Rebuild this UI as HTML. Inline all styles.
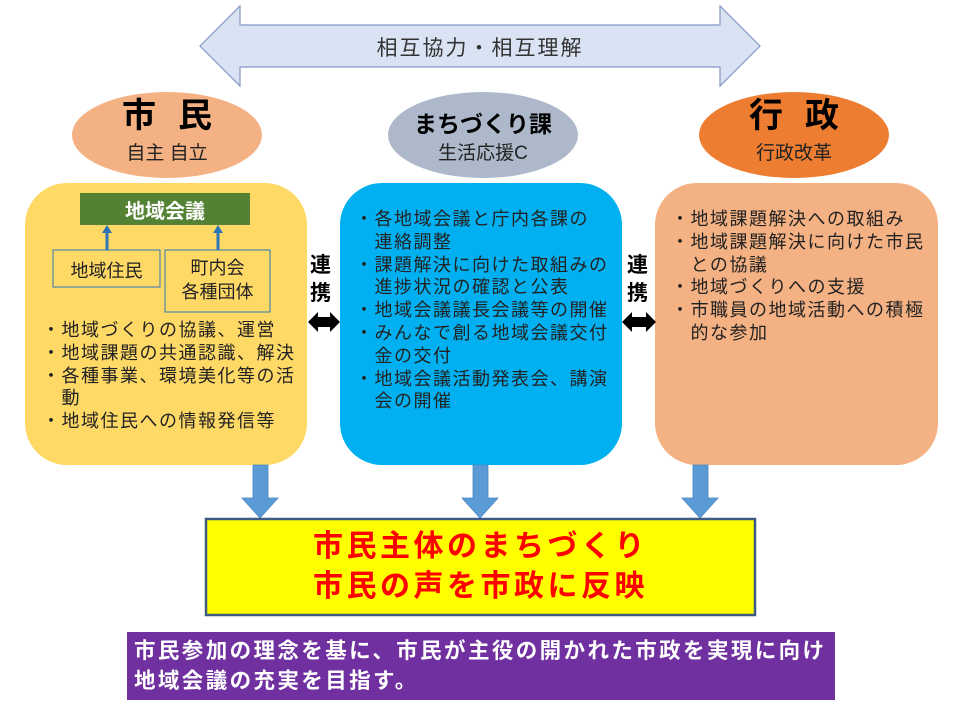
<!DOCTYPE html>
<html><head><meta charset="utf-8"><style>
body{margin:0;width:960px;height:720px;background:#fff;position:relative;overflow:hidden;font-family:"Liberation Sans","Noto Sans CJK JP",sans-serif;}
.a{position:absolute;}
.list{font-size:18px;line-height:22.8px;color:#222;letter-spacing:1.5px;white-space:nowrap;}
</style></head><body>
<svg class="a" style="left:0;top:0" width="960" height="720">
<polygon points="200,46 240,6 240,25 720,25 720,6 760,46 720,86 720,67 240,67 240,86" fill="#dae3f3" stroke="#8297c2" stroke-width="1.2"/>
<ellipse cx="167" cy="135" rx="95" ry="43" fill="#f4b183"/>
<ellipse cx="483" cy="135" rx="95" ry="43" fill="#adb9ca"/>
<ellipse cx="794" cy="135" rx="95" ry="43" fill="#ed7d31"/>
<rect x="25" y="183" width="282" height="282" rx="42" fill="#ffd966"/>
<rect x="340" y="183" width="282" height="282" rx="42" fill="#00b0f0"/>
<rect x="655" y="183" width="283" height="282" rx="42" fill="#f4b183"/>
<rect x="80" y="193" width="170" height="32" fill="#548235"/>
<rect x="53" y="250" width="107" height="37" fill="none" stroke="#2e75b6" stroke-width="1"/>
<rect x="165" y="250" width="105" height="62" fill="none" stroke="#2e75b6" stroke-width="1"/>
<line x1="107" y1="250" x2="107" y2="232" stroke="#2e75b6" stroke-width="3"/>
<polygon points="102,233 112,233 107,225" fill="#2e75b6"/>
<line x1="218" y1="250" x2="218" y2="232" stroke="#2e75b6" stroke-width="3"/>
<polygon points="213,233 223,233 218,225" fill="#2e75b6"/>
<polygon points="308,322 318,312 318,317 330,317 330,312 340,322 330,332 330,327 318,327 318,332" fill="#000"/>
<polygon points="622,322 632,312 632,317 646,317 646,312 656,322 646,332 646,327 632,327 632,332" fill="#000"/>
<g fill="#5b9bd5" stroke="#4a86c0" stroke-width="0.8">
<polygon points="253,465 268,465 268,498 278,498 260,518 242,498 253,498"/>
<polygon points="473,465 488,465 488,498 498,498 480,518 462,498 473,498"/>
<polygon points="693,465 708,465 708,498 718,498 700,518 682,498 693,498"/>
</g>
<rect x="206" y="519" width="549" height="96" fill="#ffff00" stroke="#3e5a82" stroke-width="2.5"/>
<rect x="127" y="632" width="708" height="68" fill="#7030a0"/>
</svg>
<div class="a" style="left:200px;width:560px;top:32px;text-align:center;font-size:21px;letter-spacing:2px;color:#333;">相互協力・相互理解</div>
<div class="a" style="left:72px;width:190px;top:95px;text-align:center;font-size:34px;font-weight:bold;color:#000;letter-spacing:22px;text-indent:22px;line-height:42px">市民</div>
<div class="a" style="left:72px;width:190px;top:138px;text-align:center;font-size:19px;color:#222;">自主&nbsp;自立</div>
<div class="a" style="left:388px;width:190px;top:105px;text-align:center;font-size:23px;font-weight:bold;color:#000;">まちづくり課</div>
<div class="a" style="left:388px;width:190px;top:138px;text-align:center;font-size:19px;color:#222;">生活応援C</div>
<div class="a" style="left:699px;width:190px;top:95px;text-align:center;font-size:34px;font-weight:bold;color:#000;letter-spacing:22px;text-indent:22px;line-height:42px">行政</div>
<div class="a" style="left:699px;width:190px;top:138px;text-align:center;font-size:19px;color:#222;">行政改革</div>
<div class="a" style="left:80px;width:170px;top:195px;text-align:center;font-size:20px;font-weight:bold;color:#fff;">地域会議</div>
<div class="a" style="left:53px;width:107px;top:257px;text-align:center;font-size:18px;color:#222;">地域住民</div>
<div class="a" style="left:165px;width:105px;top:256px;text-align:center;font-size:18px;line-height:24px;color:#222;">町内会<br>各種団体</div>
<div class="a" style="left:310px;top:252px;font-size:21px;font-weight:bold;line-height:28px;color:#000;">連<br>携</div>
<div class="a" style="left:627px;top:252px;font-size:21px;font-weight:bold;line-height:28px;color:#000;">連<br>携</div>
<div class="a list" style="left:42px;top:319px;">
・地域づくりの協議、運営<br>・地域課題の共通認識、解決<br>・各種事業、環境美化等の活<br>　動<br>・地域住民への情報発信等</div>
<div class="a list" style="left:355px;top:208px;">
・各地域会議と庁内各課の<br>　連絡調整<br>・課題解決に向けた取組みの<br>　進捗状況の確認と公表<br>・地域会議議長会議等の開催<br>・みんなで創る地域会議交付<br>　金の交付<br>・地域会議活動発表会、講演<br>　会の開催</div>
<div class="a list" style="left:671px;top:208px;">
・地域課題解決への取組み<br>・地域課題解決に向けた市民<br>　との協議<br>・地域づくりへの支援<br>・市職員の地域活動への積極<br>　的な参加</div>
<div class="a" style="left:206px;width:549px;top:527px;text-align:center;font-size:30px;font-weight:bold;color:#ff0000;line-height:40px;letter-spacing:3.5px">市民主体のまちづくり<br>市民の声を市政に反映</div>
<div class="a" style="left:134px;top:636px;font-size:21.5px;font-weight:bold;color:#fff;line-height:30px;letter-spacing:2.4px;white-space:nowrap">市民参加の理念を基に、市民が主役の開かれた市政を実現に向け<br>地域会議の充実を目指す。</div>
</body></html>
